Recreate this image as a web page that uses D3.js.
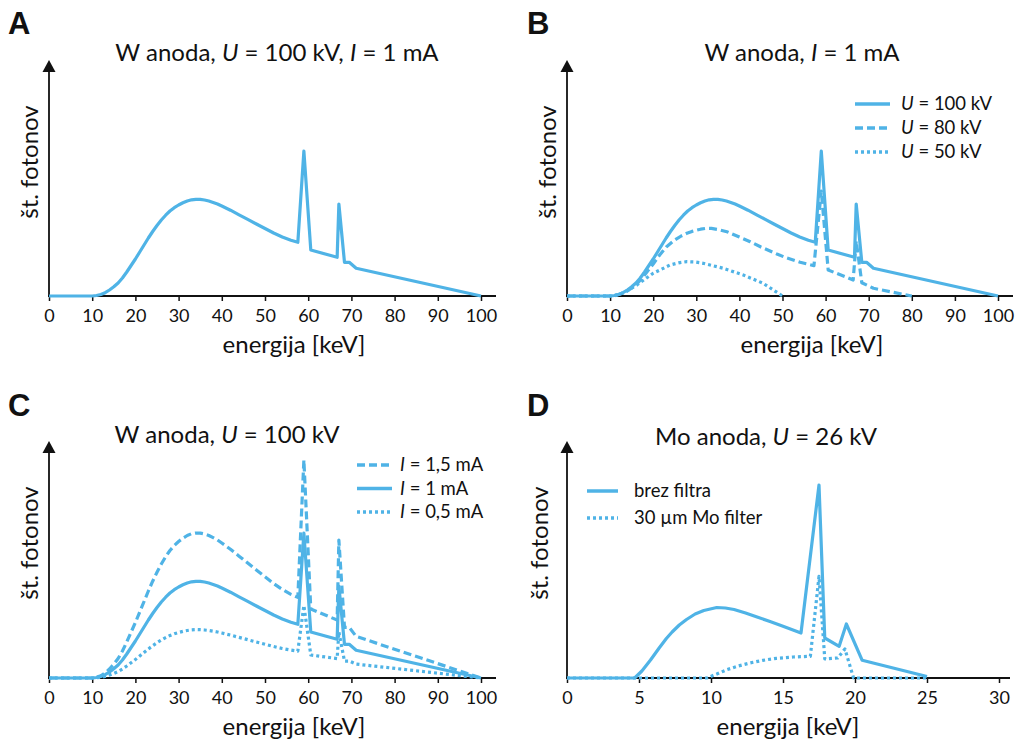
<!DOCTYPE html>
<html><head><meta charset="utf-8">
<script src="https://cdn.jsdelivr.net/npm/d3@7"></script>
<style>
body{margin:0;background:#fff;}
svg text{font-family:Lato,"Open Sans",sans-serif;fill:#111;}
</style></head>
<body>
<svg id="c" width="1021" height="745"></svg>
<script>
// ---------- DATA (energy in keV, photon count in arbitrary units) ----------
const energyW100 = [0,10,11,12,13,14,15,16,17,18,19,20,21,22,23,24,25,26,27,28,29,30,31,32,33,34,35,36,37,38,39,40,42,44,46,48,50,52,54,56,57.6,59,60.6,66.7,67.1,68.4,69.5,71.1,100];
const countsW100 = [0,0,0.5,1.5,3.3,6,9.2,13,18,24,30.5,37,44,51,58,64.5,70.5,76,80.8,85,88.3,91,93.2,95,96.2,96.7,96.6,96,95,93.6,92,90,85.8,81.2,76.6,72,67.5,63,59,55.7,53.7,145,46,38.7,92,33.7,33.7,27.7,0];
const countsI15 = [0,0,0.75,2.25,5,9,13.8,19.5,27,36,45.8,55.5,66,76.5,87,96.8,105.8,114,121.2,127.5,132.5,136.5,139.8,142.5,144.3,145,144.9,144,142.5,140.4,138,135,128.7,121.8,114.9,108,101.3,94.5,88.5,83.6,80.6,218,69,58,138,50.6,50.6,41.6,0];
const countsI05 = [0,0,0.25,0.75,1.65,3,4.6,6.5,9,12,15.3,18.5,22,25.5,29,32.3,35.3,38,40.4,42.5,44.2,45.5,46.6,47.5,48.1,48.4,48.3,48,47.5,46.8,46,45,42.9,40.6,38.3,36,33.8,31.5,29.5,27.9,26.9,72.5,23,19.4,46,16.9,16.9,13.9,0];
const energyW80 = [0,10,12,14,16,17.7,20,21.5,23.1,25,26.5,27.8,29,30,31,32.4,33.5,35,37.1,40,42.5,45,48.7,51,54.1,57.3,59,60.6,66.4,67.1,68.4,71.1,80];
const countsW80 = [0,0,1.5,5,11,19.3,32,41,49.3,56,60,62.7,64.6,65.8,66.8,67.7,67.6,66.5,64.3,59,54.3,49,42,38,33.7,30.3,105,26,16,55,13.3,7.7,0];
const energyW50 = [0,11,13,16.2,20,23.9,25.9,27.8,29.7,31.6,36.3,40.9,45.5,50];
const countsW50 = [0,0,3,11,22.7,31,33.2,34.3,34,32.7,27.7,21,12.7,0];
const energyMo = [0,4.7,5.2,5.8,6.4,6.9,7.3,7.8,8.3,8.9,9.5,10.4,11.0,11.6,12.4,13.2,14.1,15.0,16.25,17.5,17.9,18.9,19.4,20.5,25];
const countsMo = [0,0,7,18,30,39.5,46,53,58.5,64,67.5,70.5,70,68.5,65,61,56.5,51.7,45,193,40,31.7,54,17.7,1.5];
const energyMoF = [0,9.7,10.4,11.1,11.9,12.7,13.6,14.55,15.7,16.9,17.5,17.9,18.8,19.3,19.9,25];
const countsMoF = [0,0,4,8.3,12,15,17.7,19.7,21,21.7,101.7,19,20,29,0,0];
const ticksW = [0,10,20,30,40,50,60,70,80,90,100];
const ticksMo = [0,5,10,15,20,25,30];

const BLUE = "#4fb3e6";
const DASH = {solid:null, dashed:"8,4", dotted:"3,3"};
const svg = d3.select("#c");

function zip(e,c){return e.map((v,i)=>[v,c[i]]);}

function panel(cfg){
  const g = svg.append("g");
  const x = d3.scaleLinear().domain(cfg.xdom).range([cfg.x0,cfg.x1]);
  const y = d3.scaleLinear().domain([0,234]).range([cfg.base,cfg.base-234]);
  const ax = d3.axisBottom(x).tickValues(cfg.ticks).tickSize(5).tickPadding(8).tickFormat(d3.format("d"));
  const axg = g.append("g").attr("transform",`translate(0,${cfg.base})`).call(ax);
  axg.select(".domain").remove();
  axg.selectAll(".tick line").attr("stroke","#111").attr("stroke-width",1.5);
  axg.selectAll(".tick text").style("font-family","Lato").style("font-size","18px").attr("fill","#111");
  g.append("line").attr("x1",cfg.x0-1).attr("x2",cfg.xend).attr("y1",cfg.base).attr("y2",cfg.base).attr("stroke","#111").attr("stroke-width",1.8);
  g.append("line").attr("x1",cfg.x0).attr("x2",cfg.x0).attr("y1",cfg.base).attr("y2",cfg.top+10).attr("stroke","#111").attr("stroke-width",1.8);
  g.append("path").attr("d",`M${cfg.x0-6.5},${cfg.top+12}L${cfg.x0},${cfg.top}L${cfg.x0+6.5},${cfg.top+12}Z`).attr("fill","#111");
  const line = d3.line().x(d=>x(d[0])).y(d=>y(d[1]));
  cfg.series.forEach(s=>{
    g.append("path").attr("d",line(zip(s.e,s.c))).attr("fill","none").attr("stroke",BLUE)
      .attr("stroke-width",3.2).attr("stroke-linejoin","round")
      .attr("stroke-dasharray",DASH[s.style]);
  });
  const t = g.append("text").attr("x",cfg.titleX).attr("y",cfg.titleY).attr("text-anchor","middle").style("font-size","24px");
  cfg.title.forEach(p=>t.append("tspan").text(p[0]).style("font-style",p[1]?"italic":"normal"));
  g.append("text").attr("x",cfg.xlabX).attr("y",cfg.xlabY).attr("text-anchor","middle").style("font-size","24px").text("energija [keV]");
  g.append("text").attr("transform",`translate(${cfg.ylabX},${cfg.ylabY}) rotate(-90)`).attr("text-anchor","middle").style("font-size","24px").text("št. fotonov");
  g.append("text").attr("x",cfg.letterX).attr("y",cfg.letterY).style("font-size","31px").style("font-weight","bold").style("font-family","Liberation Sans, Arial").text(cfg.letter);
  if(cfg.legend){
    cfg.legend.items.forEach((it,i)=>{
      const yy = cfg.legend.y0 + i*cfg.legend.dy;
      g.append("line").attr("x1",cfg.legend.lx0).attr("x2",cfg.legend.lx1).attr("y1",yy).attr("y2",yy)
        .attr("stroke",BLUE).attr("stroke-width",3.5).attr("stroke-dasharray",DASH[it.style]);
      const tt = g.append("text").attr("x",cfg.legend.tx).attr("y",yy+6).style("font-size","18.5px");
      it.label.forEach(p=>tt.append("tspan").text(p[0]).style("font-style",p[1]?"italic":"normal"));
    });
  }
}

panel({letter:"A",letterX:8,letterY:34,xdom:[0,100],x0:49,x1:481,xend:496,base:296,top:60,ticks:ticksW,
  title:[["W anoda, ",0],["U",1],[" = 100 kV, ",0],["I",1],[" = 1 mA",0]],titleX:277,titleY:61,
  xlabX:294,xlabY:353,ylabX:38,ylabY:162,
  series:[{e:energyW100,c:countsW100,style:"solid"}]});

panel({letter:"B",letterX:527,letterY:34,xdom:[0,100],x0:567,x1:998,xend:1013,base:296,top:60,ticks:ticksW,
  title:[["W anoda, ",0],["I",1],[" = 1 mA",0]],titleX:802,titleY:61,
  xlabX:812,xlabY:353,ylabX:556,ylabY:162,
  series:[{e:energyW50,c:countsW50,style:"dotted"},{e:energyW80,c:countsW80,style:"dashed"},{e:energyW100,c:countsW100,style:"solid"}],
  legend:{lx0:855,lx1:890,tx:901,y0:104,dy:24,items:[
    {style:"solid",label:[["U",1],[" = 100 kV",0]]},
    {style:"dashed",label:[["U",1],[" = 80 kV",0]]},
    {style:"dotted",label:[["U",1],[" = 50 kV",0]]}]}});

panel({letter:"C",letterX:8,letterY:416,xdom:[0,100],x0:49,x1:481,xend:496,base:678,top:441,ticks:ticksW,
  title:[["W anoda, ",0],["U",1],[" = 100 kV",0]],titleX:227,titleY:443,
  xlabX:294,xlabY:735,ylabX:38,ylabY:543,
  series:[{e:energyW100,c:countsI05,style:"dotted"},{e:energyW100,c:countsI15,style:"dashed"},{e:energyW100,c:countsW100,style:"solid"}],
  legend:{lx0:357,lx1:392,tx:400,y0:465,dy:23.5,items:[
    {style:"dashed",label:[["I",1],[" = 1,5 mA",0]]},
    {style:"solid",label:[["I",1],[" = 1 mA",0]]},
    {style:"dotted",label:[["I",1],[" = 0,5 mA",0]]}]}});

panel({letter:"D",letterX:527,letterY:416,xdom:[0,30],x0:567,x1:999,xend:1010,base:678,top:441,ticks:ticksMo,
  title:[["Mo anoda, ",0],["U",1],[" = 26 kV",0]],titleX:766,titleY:445,
  xlabX:788,xlabY:735,ylabX:548,ylabY:543,
  series:[{e:energyMo,c:countsMo,style:"solid"},{e:energyMoF,c:countsMoF,style:"dotted"}],
  legend:{lx0:587,lx1:618,tx:634,y0:491,dy:27,items:[
    {style:"solid",label:[["brez filtra",0]]},
    {style:"dotted",label:[["30 µm Mo filter",0]]}]}});
</script>
</body></html>
